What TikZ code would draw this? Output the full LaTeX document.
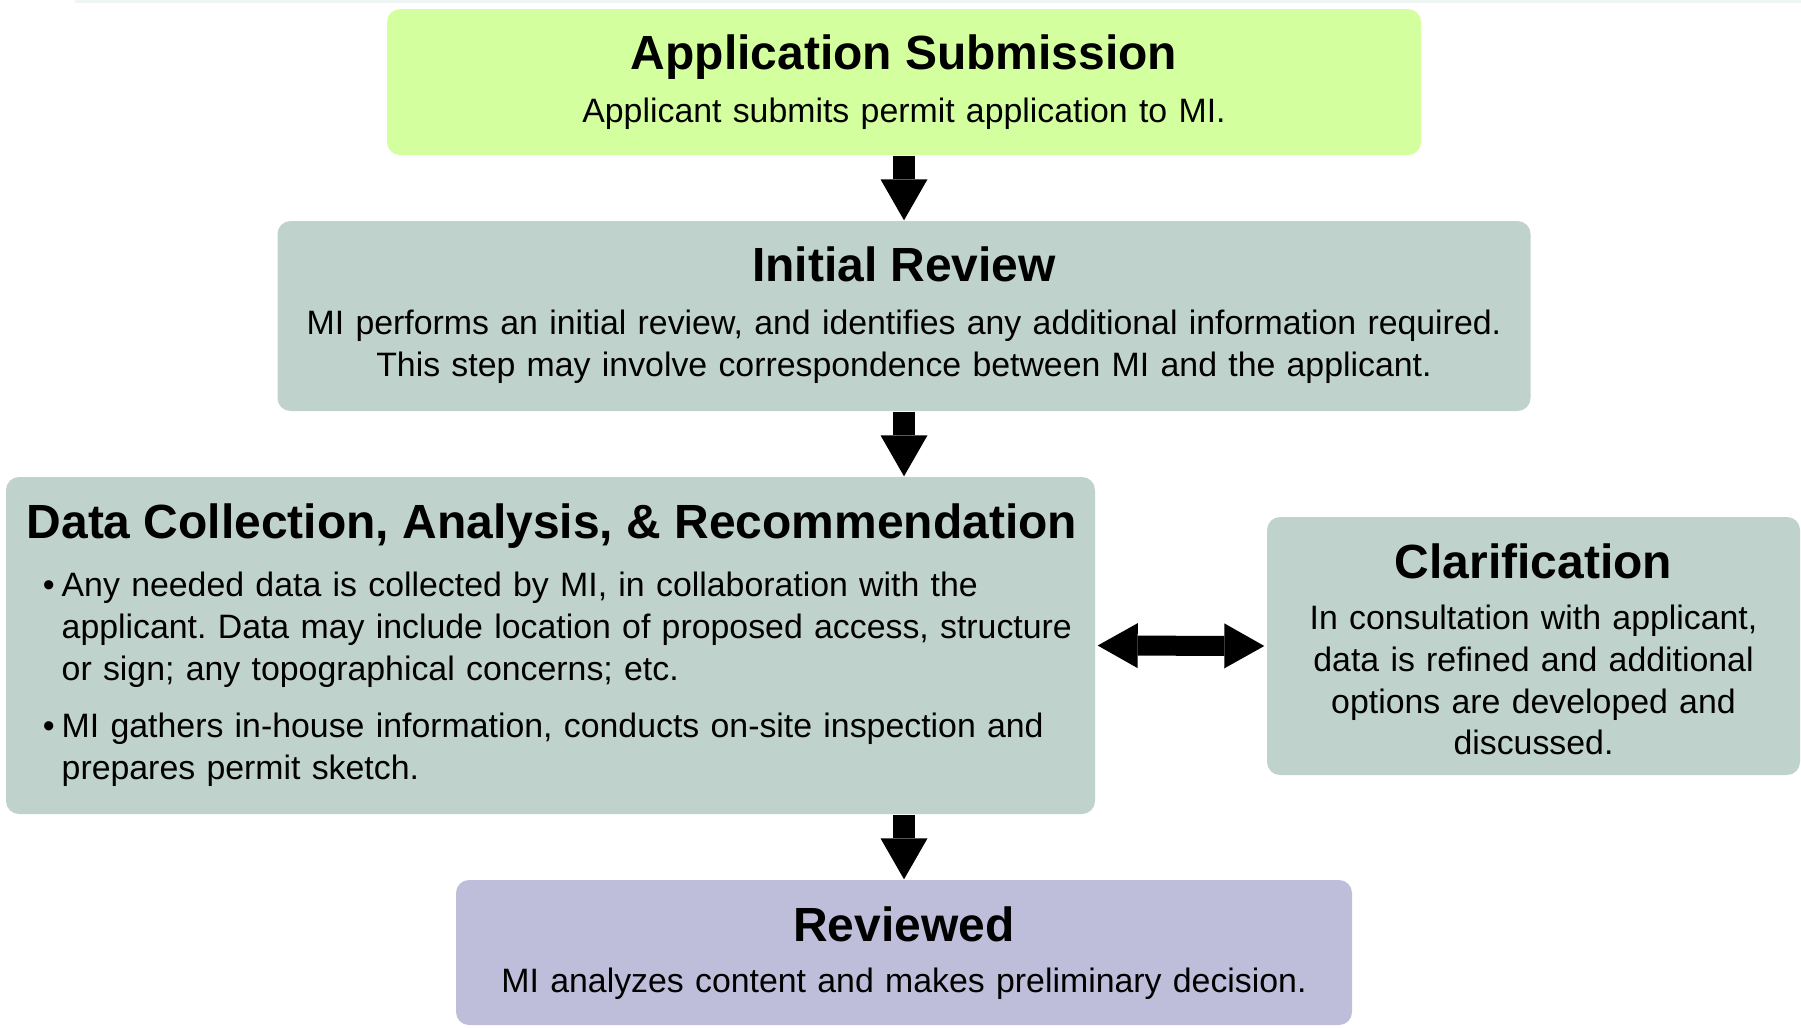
\documentclass[tikz,border=0pt]{standalone}
\usepackage{fontspec}
\setmainfont{Liberation Sans}
\usetikzlibrary{arrows.meta}
\frenchspacing

\definecolor{subgreen}{HTML}{D4FF9E}
\definecolor{stepgray}{HTML}{C0D2CC}
\definecolor{revpurple}{HTML}{BEBEDA}
\definecolor{edgeline}{HTML}{EEF5F5}

\begin{document}
\begin{tikzpicture}[
    box/.style={rectangle, rounded corners=0.13cm, inner sep=0pt},
    ttl/.style={anchor=base, inner sep=0pt, font=\fontsize{13.65pt}{16pt}\selectfont\bfseries},
    txt/.style={anchor=base, inner sep=0pt, align=center, font=\fontsize{9.63pt}{11.9pt}\selectfont\frenchspacing},
    downarrow/.style={line width=0.22cm, -{Triangle[length=0.41cm, width=0.47cm, line width=0pt]}},
    sidearrow/.style={line width=0.20cm, shorten <=0.02cm, shorten >=0.02cm,
      {Triangle[length=0.40cm, width=0.45cm, line width=0pt]}-{Triangle[length=0.40cm, width=0.45cm, line width=0pt]}},
  ]
    \useasboundingbox (0,0) rectangle (18.01,-10.27);
    \fill[edgeline] (0.75,0) rectangle (18.01,-0.03);

    % ボックスの定義
    \node[box, fill=subgreen, minimum width=10.34cm, minimum height=1.46cm] (sub) at (9.04,-0.82) {};
    \node[box, fill=stepgray, minimum width=12.53cm, minimum height=1.90cm] (init) at (9.04,-3.16) {};
    \node[box, fill=stepgray, minimum width=10.89cm, minimum height=3.37cm] (data) at (5.505,-6.455) {};
    \node[box, fill=stepgray, minimum width=5.33cm, minimum height=2.58cm] (clar) at (15.335,-6.46) {};
    \node[box, fill=revpurple, minimum width=8.96cm, minimum height=1.45cm] (rev) at (9.04,-9.525) {};

    % 各ボックスの文字
    \node[ttl] (subT) at (9.04,-0.695) {Application Submission};
    \node[txt, text width=10cm] (subB) at (9.04,-1.225) {Applicant submits permit application to MI.};

    \node[ttl] (initT) at (9.04,-2.815) {Initial Review};
    \node[txt, text width=12.4cm] (initB) at (9.04,-3.345)
      {MI performs an initial review, and identifies any additional information required.\\
       This step may involve correspondence between MI and the applicant.};

    \node[ttl, anchor=base west] (dataT) at (0.26,-5.385) {Data Collection, Analysis, \& Recommendation};
    \node[txt, anchor=base west, align=left, text width=10.3cm] (dataB) at (0.61,-5.965)
      {\leavevmode\llap{\textbullet\hspace{0.07cm}}Any needed data is collected by MI, in collaboration with the\\
       applicant. Data may include location of proposed access, structure\\
       or sign; any topographical concerns; etc.\\[0.16cm]
       \leavevmode\llap{\textbullet\hspace{0.07cm}}MI gathers in-house information, conducts on-site inspection and\\
       prepares permit sketch.};

    \node[ttl] (clarT) at (15.335,-5.785) {Clarification};
    \node[txt, text width=5.2cm] (clarB) at (15.335,-6.295)
      {In consultation with applicant,\\ data is refined and additional\\ options are developed and\\ discussed.};

    \node[ttl] (revT) at (9.04,-9.415) {Reviewed};
    \node[txt, text width=8.8cm] (revB) at (9.04,-9.925) {MI analyzes content and makes preliminary decision.};

    % 矢印
    \draw[downarrow] (sub.south) -- (init.north);
    \draw[downarrow] (init.south) -- (init.south |- data.north);
    \draw[downarrow] (rev.north |- data.south) -- (rev.north);
    \draw[sidearrow] (data.east) -- (clar.west);
\end{tikzpicture}
\end{document}
